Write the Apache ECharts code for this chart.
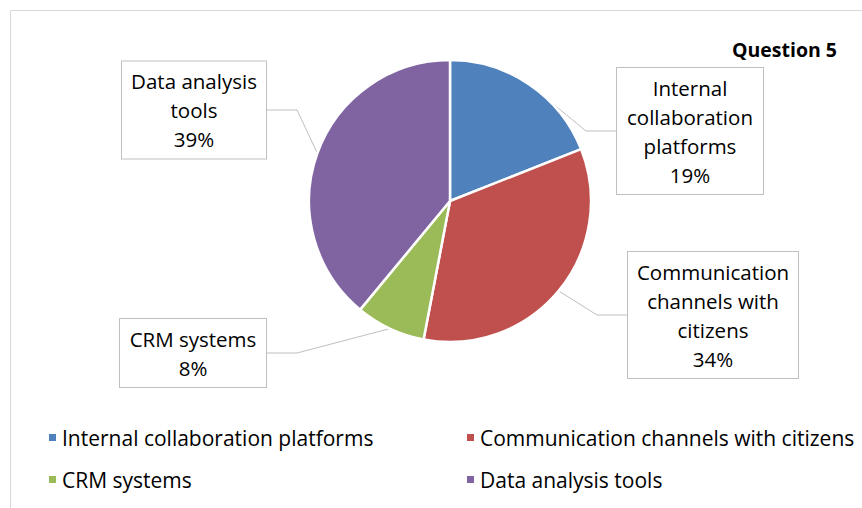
<!DOCTYPE html>
<html>
<head>
<meta charset="utf-8">
<script src="https://cdn.jsdelivr.net/npm/echarts@6/dist/echarts.min.js"></script>
<style>
  html, body { margin: 0; padding: 0; background: #fff; }
  #chart { width: 862px; height: 508px; }
</style>
</head>
<body>
<div id="chart"></div>
<script>
var categories = ['Internal collaboration platforms', 'Communication channels with citizens', 'CRM systems', 'Data analysis tools'];
var labelNames = ['Internal\ncollaboration\nplatforms', 'Communication\nchannels with\ncitizens', 'CRM systems', 'Data analysis\ntools'];
var values = [19, 34, 8, 39];
var colors = ['#4F81BD', '#C0504D', '#9BBB59', '#8064A2'];

// callout box centres and widths (layout only)
var boxes = [
  {x: 690, y: 131, w: 136},
  {x: 713, y: 315, w: 160},
  {x: 193, y: 353, w: 136},
  {x: 194, y: 110, w: 134}
];

var font = 'Open Sans';
var chart = echarts.init(document.getElementById('chart'), null, {renderer: 'svg'});

var seriesData = categories.map(function (c, i) {
  return {
    name: c,
    value: values[i],
    itemStyle: {color: colors[i]},
    label: {width: boxes[i].w, formatter: labelNames[i] + '\n{d}%'}
  };
});

chart.setOption({
  animation: false,
  graphic: [{
    type: 'rect',
    shape: {x: 10.5, y: 10.5, width: 900, height: 600},
    style: {fill: 'none', stroke: '#d9d9d9', lineWidth: 1},
    silent: true
  }],
  title: {
    text: 'Question 5',
    right: 20, top: 34,
    textStyle: {fontFamily: font, fontWeight: 'bold', fontSize: 19.5, color: '#000'}
  },
  legend: [{
    orient: 'vertical',
    left: 42, top: 422,
    itemGap: 21,
    icon: 'rect', itemWidth: 9, itemHeight: 9,
    data: [categories[0], categories[2]],
    textStyle: {fontFamily: font, fontSize: 21, color: '#000'}
  }, {
    orient: 'vertical',
    left: 460, top: 422,
    itemGap: 21,
    icon: 'rect', itemWidth: 9, itemHeight: 9,
    data: [categories[1], categories[3]],
    textStyle: {fontFamily: font, fontSize: 21, color: '#000'}
  }],
  series: [{
    type: 'pie',
    center: [450, 201],
    radius: 141,
    startAngle: 90,
    clockwise: true,
    data: seriesData,
    itemStyle: {borderColor: '#fff', borderWidth: 2.5},
    label: {
      show: true,
      fontFamily: font,
      fontSize: 20.5,
      lineHeight: 29,
      color: '#000',
      align: 'center',
      backgroundColor: '#fff',
      borderColor: '#bfbfbf',
      borderWidth: 1,
      padding: [5, 5]
    },
    labelLine: {
      show: true,
      lineStyle: {color: '#bfbfbf', width: 1}
    },
    labelLayout: function (params) {
      var b = boxes[params.dataIndex];
      return {
        x: b.x,
        y: b.y,
        align: 'center',
        verticalAlign: 'middle'
      };
    }
  }]
});
</script>
</body>
</html>
